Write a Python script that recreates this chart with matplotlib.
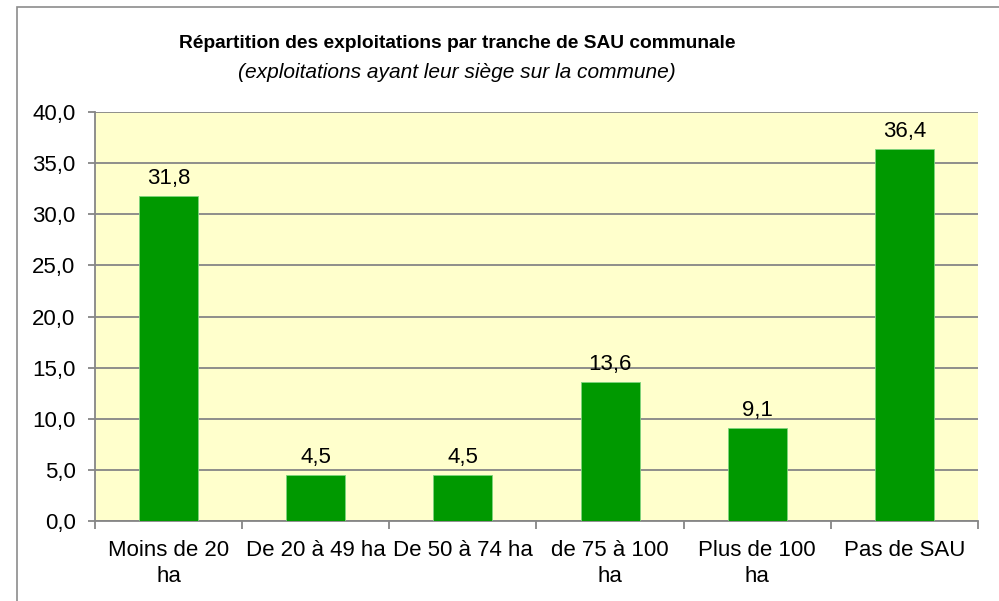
import matplotlib
matplotlib.use("Agg")
import matplotlib.pyplot as plt
from matplotlib.patches import Rectangle

# Data
categories = ["Moins de 20\nha", "De 20 à 49 ha", "De 50 à 74 ha",
              "de 75 à 100\nha", "Plus de 100\nha", "Pas de SAU"]
values = [31.8, 4.5, 4.5, 13.6, 9.1, 36.4]
yticks = [0, 5, 10, 15, 20, 25, 30, 35, 40]

title = "Répartition des exploitations par tranche de SAU communale"
subtitle = "(exploitations ayant leur siège sur la commune)"

plt.rcParams['font.family'] = ['Liberation Sans', 'DejaVu Sans']

W, H = 999, 601
fig = plt.figure(figsize=(W / 100, H / 100), dpi=100)

# outer chart frame (cut off on the right and bottom)
fig.patches.append(Rectangle((17 / W, -0.1), 1.2, 1 - 7 / H + 0.1,
                             transform=fig.transFigure, fill=False,
                             edgecolor="#8c8c8c", linewidth=1.2))

left, right, top, bottom = 95, 978, 112, 521
ax = fig.add_axes([left / W, 1 - bottom / H, (right - left) / W, (bottom - top) / H])
ax.set_facecolor("#ffffcc")

x = list(range(len(categories)))
ax.bar(x, values, width=0.4, color="#009900", edgecolor="#7fd47f",
       linewidth=0.6, zorder=3)

for xi, v in zip(x, values):
    ax.annotate(f"{v:.1f}".replace(".", ","), (xi, v), xytext=(0, 5),
                textcoords="offset points", ha="center", va="bottom",
                fontsize=16)

ax.set_xlim(-0.5, len(categories) - 0.5)
ax.set_ylim(0, 40)
ax.set_yticks(yticks)
ax.set_yticklabels([f"{t:.1f}".replace(".", ",") for t in yticks], fontsize=16)
ax.yaxis.grid(True, color="#868686", linewidth=1.3, zorder=1)
ax.set_axisbelow(True)

ax.set_xticks(x)
ax.set_xticklabels(categories, fontsize=16, linespacing=1.3)
ax.tick_params(axis="x", length=0, pad=14)
ax.set_xticks([i - 0.5 for i in range(len(categories) + 1)], minor=True)
ax.tick_params(axis="x", which="minor", length=6, color="#868686", width=1.3)
ax.tick_params(axis="y", length=5, color="#868686", width=1.3, pad=9)

for s in ["top", "right"]:
    ax.spines[s].set_visible(False)
for s in ["left", "bottom"]:
    ax.spines[s].set_color("#868686")
    ax.spines[s].set_linewidth(1.3)

fig.text(457 / W, 1 - 44 / H, title, ha="center", va="center",
         fontsize=13.8, fontweight="bold")
fig.text(457 / W, 1 - 72 / H, subtitle, ha="center", va="center",
         fontsize=15, style="italic")

fig.savefig("out.png", dpi=100)
